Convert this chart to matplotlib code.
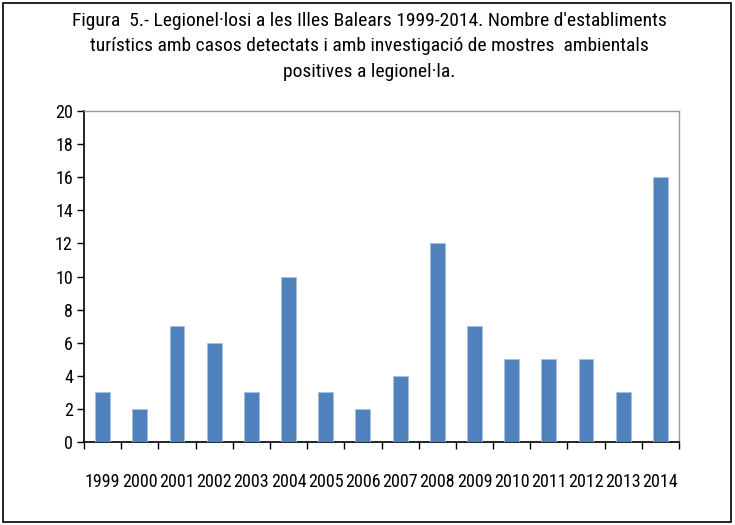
import numpy as np
import matplotlib
matplotlib.use("Agg")
import matplotlib.pyplot as plt
from matplotlib.patches import Rectangle

## Data ##
years = ["1999", "2000", "2001", "2002", "2003", "2004", "2005", "2006",
         "2007", "2008", "2009", "2010", "2011", "2012", "2013", "2014"]
establiments = [3, 2, 7, 6, 3, 10, 3, 2, 4, 12, 7, 5, 5, 5, 3, 16]
y_ticks = [0, 2, 4, 6, 8, 10, 12, 14, 16, 18, 20]

title = ("Figura  5.- Legionel·losi a les Illes Balears 1999-2014. Nombre d'establiments\n"
         "turístics amb casos detectats i amb investigació de mostres  ambientals\n"
         "positives a legionel·la.")

# narrow face like the original (Arial Narrow), plain sans if none is there
plt.rcParams['font.family'] = ['Roboto Condensed', 'Archivo Narrow',
                               'Liberation Sans', 'DejaVu Sans']

fig = plt.figure(figsize=(7.35, 5.25), dpi=100)
ax = fig.add_axes([0.1143, 0.158, 0.8095, 0.6306])

x = np.arange(len(years))
ax.bar(x, establiments, width=0.4, color="#4F81BD", edgecolor="#A9C1E0",
       linewidth=0.6, zorder=3)

ax.set_xlim(-0.5, len(years) - 0.5)
ax.set_ylim(0, 20)
ax.set_yticks(y_ticks)
ax.set_xticks(x)
ax.set_xticklabels(years)
ax.set_xticks(np.arange(-0.5, len(years)), minor=True)
ax.tick_params(axis="x", which="major", length=0, pad=22, labelsize=13)
ax.tick_params(axis="x", which="minor", length=5, width=1, direction="out")
ax.tick_params(axis="y", length=5, width=1, direction="out", labelsize=13, pad=3)

for side in ("top", "right"):
    ax.spines[side].set_color("#9a9a9a")
    ax.spines[side].set_linewidth(1)
for side in ("left", "bottom"):
    ax.spines[side].set_color("black")
    ax.spines[side].set_linewidth(1.2)

fig.text(0.503, 0.978, title, ha="center", va="top", fontsize=14,
         linespacing=1.55)

# black frame round the whole chart
fig.patches.append(Rectangle((0.004, 0.006), 0.990, 0.988,
                             transform=fig.transFigure, fill=False,
                             edgecolor="black", linewidth=1.2))

fig.savefig("out.png", dpi=100)
